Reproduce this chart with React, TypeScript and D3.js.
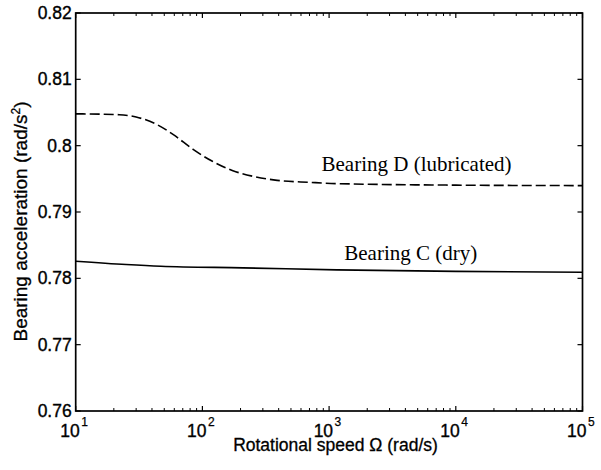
import React from 'react'
import * as d3 from 'd3'

const width = 601
const height = 470
const margin = { top: 13, right: 18.5, bottom: 59, left: 75.7 }

// rotational speed (rad/s) and bearing acceleration (rad/s^2)
const speedD = [10, 22, 30, 44, 59, 85, 120, 174, 251, 389, 708, 1150, 10000, 100000]
const accelD = [0.8048, 0.80467, 0.80432, 0.80316, 0.80166, 0.7994, 0.79764, 0.79623, 0.79538, 0.79477, 0.79447, 0.79428, 0.79405, 0.79398]

const speedC = [10, 25, 47, 209, 1150, 10000, 100000]
const accelC = [0.78258, 0.78208, 0.78182, 0.78158, 0.78128, 0.78105, 0.78092]

const yTicks = [0.76, 0.77, 0.78, 0.79, 0.8, 0.81, 0.82]
const yTickLabels = ['0.76', '0.77', '0.78', '0.79', '0.8', '0.81', '0.82']
const xTicks = [10, 100, 1000, 10000, 100000]
const xTickExp = ['1', '2', '3', '4', '5']

const App = () => {
  const x = d3.scaleLog().domain([10, 100000]).range([margin.left, width - margin.right])
  const y = d3.scaleLinear().domain([0.76, 0.82]).range([height - margin.bottom, margin.top])

  const line = d3.line<[number, number]>()
    .x(d => x(d[0]))
    .y(d => y(d[1]))
    .curve(d3.curveMonotoneX)

  const dPath = line(speedD.map((s, i) => [s, accelD[i]]))
  const cPath = line(speedC.map((s, i) => [s, accelC[i]]))

  const x0 = x.range()[0]
  const x1 = x.range()[1]
  const y0 = y.range()[0]
  const y1 = y.range()[1]

  const minor: number[] = []
  for (let e = 1; e < 5; e++) {
    for (let k = 2; k < 10; k++) minor.push(k * Math.pow(10, e))
  }

  const tickFont = { fontFamily: 'Liberation Sans, Arial, sans-serif', fontSize: 17.5 }
  const serif = { fontFamily: 'Liberation Serif, Times New Roman, serif', fontSize: 21 }

  return (
    <svg width={width} height={height} style={{ position: 'absolute', left: 0, top: 0, background: '#fff' }}>
      {/* curves */}
      <path d={dPath || ''} fill="none" stroke="#000" strokeWidth={1.6} strokeDasharray="10,4" />
      <path d={cPath || ''} fill="none" stroke="#000" strokeWidth={1.6} />

      {/* frame */}
      <rect x={x0} y={y1} width={x1 - x0} height={y0 - y1} fill="none" stroke="#000" strokeWidth={1.7} />

      {/* y ticks, left and right */}
      {yTicks.map((t, i) => (
        <g key={'y' + i}>
          <line x1={x0} x2={x0 + 5} y1={y(t)} y2={y(t)} stroke="#000" strokeWidth={1.2} />
          <line x1={x1} x2={x1 - 5} y1={y(t)} y2={y(t)} stroke="#000" strokeWidth={1.2} />
          <text x={x0 - 4} y={y(t) + 6} textAnchor="end" stroke="#000" strokeWidth={0.35} style={tickFont}>{yTickLabels[i]}</text>
        </g>
      ))}

      {/* x major ticks */}
      {xTicks.map((t, i) => (
        <g key={'x' + i}>
          <line x1={x(t)} x2={x(t)} y1={y0} y2={y0 - 5} stroke="#000" strokeWidth={1.2} />
          <line x1={x(t)} x2={x(t)} y1={y1} y2={y1 + 5} stroke="#000" strokeWidth={1.2} />
          <text x={x(t) + 4} y={437} textAnchor="end" stroke="#000" strokeWidth={0.35} style={tickFont}>10</text>
          <text x={x(t) + 5.5} y={426} stroke="#000" strokeWidth={0.25} style={{ ...tickFont, fontSize: 12 }}>{xTickExp[i]}</text>
        </g>
      ))}

      {/* x minor ticks */}
      {minor.map((t, i) => (
        <g key={'m' + i}>
          <line x1={x(t)} x2={x(t)} y1={y0} y2={y0 - 3} stroke="#000" strokeWidth={1} />
          <line x1={x(t)} x2={x(t)} y1={y1} y2={y1 + 3} stroke="#000" strokeWidth={1} />
        </g>
      ))}

      {/* curve labels */}
      <text x={321.5} y={170.5} style={serif}>Bearing D (lubricated)</text>
      <text x={344.3} y={260} style={serif}>Bearing C (dry)</text>

      {/* axis titles */}
      <text x={335.5} y={451} textAnchor="middle" stroke="#000" strokeWidth={0.3} style={tickFont}>Rotational speed Ω (rad/s)</text>
      <text transform="translate(27,221.5) rotate(-90)" textAnchor="middle" stroke="#000" strokeWidth={0.3} style={{ ...tickFont, fontSize: 19 }}>
        Bearing acceleration (rad/s<tspan dy={-7} fontSize={12}>2</tspan><tspan dy={7}>)</tspan>
      </text>
    </svg>
  )
}

export default App
